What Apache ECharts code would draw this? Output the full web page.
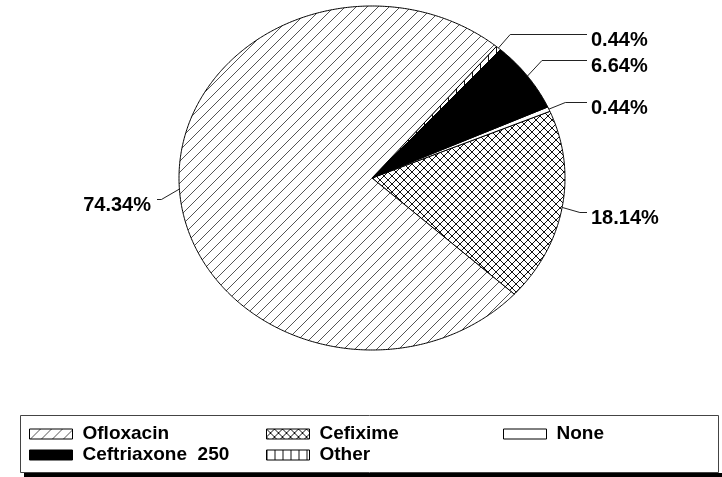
<!DOCTYPE html>
<html>
<head>
<meta charset="utf-8">
<script src="https://cdn.jsdelivr.net/npm/echarts@6/dist/echarts.min.js"></script>
<style>
html,body{margin:0;padding:0;background:#fff;}
#chart{width:722px;height:477px;}
</style>
</head>
<body>
<div id="chart"></div>
<script>
// ---- DATA ----
const categories = ['Cefixime', 'None', 'Ceftriaxone  250', 'Other', 'Ofloxacin'];
const shares = [18.14, 0.44, 6.64, 0.44, 74.34];
const legendColumns = [['Ofloxacin', 'Ceftriaxone  250'], ['Cefixime', 'Other'], ['None']];

// ---- LAYOUT ----
const CX = 372, CY = 178, RX = 193, RY = 172;
const START_ANGLE = -42.5;           // degrees, slices run counter-clockwise
const LINE_EXT = 18;                  // radial length of label line
const labelShift = [2, 0, -5, 0, 9];  // small vertical nudges of label knees
const FONT = '"Liberation Sans", Arial, sans-serif';

// ---- PATTERNS ----
function makeTile(w, h, draw) {
  const c = document.createElement('canvas');
  c.width = w; c.height = h;
  const ctx = c.getContext('2d');
  ctx.fillStyle = '#fff'; ctx.fillRect(0, 0, w, h);
  draw(ctx, w, h);
  return { image: c, repeat: 'repeat' };
}
const diagPattern = makeTile(11, 11, (ctx, w, h) => {
  ctx.strokeStyle = '#555'; ctx.lineWidth = 1;
  for (const k of [-w, 0, w]) { ctx.beginPath(); ctx.moveTo(k, h); ctx.lineTo(k + w, 0); ctx.stroke(); }
});
const crossPattern = makeTile(8, 8, (ctx, w, h) => {
  ctx.strokeStyle = '#111'; ctx.lineWidth = 1;
  for (const k of [-w, 0, w]) {
    ctx.beginPath(); ctx.moveTo(k, h); ctx.lineTo(k + w, 0); ctx.stroke();
    ctx.beginPath(); ctx.moveTo(k, 0); ctx.lineTo(k + w, h); ctx.stroke();
  }
});
const vertPattern = makeTile(8, 8, (ctx, w, h) => {
  ctx.strokeStyle = '#111'; ctx.lineWidth = 1;
  ctx.beginPath(); ctx.moveTo(0.5, 0); ctx.lineTo(0.5, h); ctx.stroke();
});
const fills = {
  'Ofloxacin': diagPattern,
  'Cefixime': crossPattern,
  'None': '#ffffff',
  'Ceftriaxone  250': '#000000',
  'Other': vertPattern
};

// ---- ANGLES from data ----
const total = shares.reduce((a, b) => a + b, 0);
const startAngles = [];
let acc = START_ANGLE;
shares.forEach(v => { startAngles.push(acc); acc += v / total * 360; });

function makeRender(i) {
  return function (params, api) {
    const v = api.value(0);
    const a0 = startAngles[i];
    const a1 = a0 + v / total * 360;
    const pts = [[CX, CY]];
    const steps = Math.max(2, Math.ceil((a1 - a0) / 0.5));
    for (let s = 0; s <= steps; s++) {
      const a = (a0 + (a1 - a0) * s / steps) * Math.PI / 180;
      pts.push([CX + RX * Math.cos(a), CY - RY * Math.sin(a)]);
    }
    const mid = (a0 + a1) / 2 * Math.PI / 180;
    const dx = Math.cos(mid), dy = -Math.sin(mid);
    const edge = [CX + RX * dx, CY + RY * dy];
    const knee = [edge[0] + LINE_EXT * dx, edge[1] + LINE_EXT * dy + labelShift[i]];
    const right = dx >= 0;
    const endX = right ? CX + RX + 22 : CX - RX - 22;
    const ly = Math.round(knee[1]) + 0.5;
    return {
      type: 'group',
      children: [
        { type: 'polygon', shape: { points: pts },
          style: { fill: fills[categories[i]], stroke: '#000', lineWidth: 1 } },
        { type: 'polyline', shape: { points: [edge, [knee[0], ly], [endX, ly]] },
          style: { stroke: '#222', lineWidth: 1, fill: null } },
        { type: 'text',
          style: { text: v.toFixed(2) + '%', x: right ? endX + 4 : endX - 6, y: ly + 5.5,
                   align: right ? 'left' : 'right', verticalAlign: 'middle',
                   fill: '#000', fontSize: 20, fontWeight: 'bold', fontFamily: FONT } }
      ]
    };
  };
}

const series = categories.map((name, i) => ({
  type: 'custom',
  name: name,
  coordinateSystem: 'none',
  silent: true,
  itemStyle: { color: fills[name], borderColor: '#000', borderWidth: 1 },
  data: [[shares[i]]],
  renderItem: makeRender(i)
}));

const legendLefts = [29, 266, 503];
const legends = legendColumns.map((col, c) => ({
  orient: 'vertical',
  left: legendLefts[c],
  top: 424,
  padding: 0,
  itemGap: 1,
  itemWidth: 43,
  itemHeight: 10,
  icon: 'rect',
  selectedMode: false,
  textStyle: { fontSize: 19, fontWeight: 'bold', fontFamily: FONT, color: '#000', lineHeight: 20, padding: [0, 0, 0, 5] },
  data: col.map(n => ({ name: n, icon: 'rect',
    itemStyle: { color: fills[n], borderColor: '#000', borderWidth: 1 } }))
}));

const chart = echarts.init(document.getElementById('chart'), null, { renderer: 'canvas' });
chart.setOption({
  animation: false,
  backgroundColor: '#fff',
  legend: legends,
  graphic: [
    { type: 'rect', z: -1, shape: { x: 24, y: 473, width: 698, height: 4 }, style: { fill: '#000' } },
    { type: 'rect', z: -1, shape: { x: 20.5, y: 415.5, width: 698, height: 57 },
      style: { fill: '#fff', stroke: '#444', lineWidth: 1 } }
  ],
  series: series
});
</script>
</body>
</html>
